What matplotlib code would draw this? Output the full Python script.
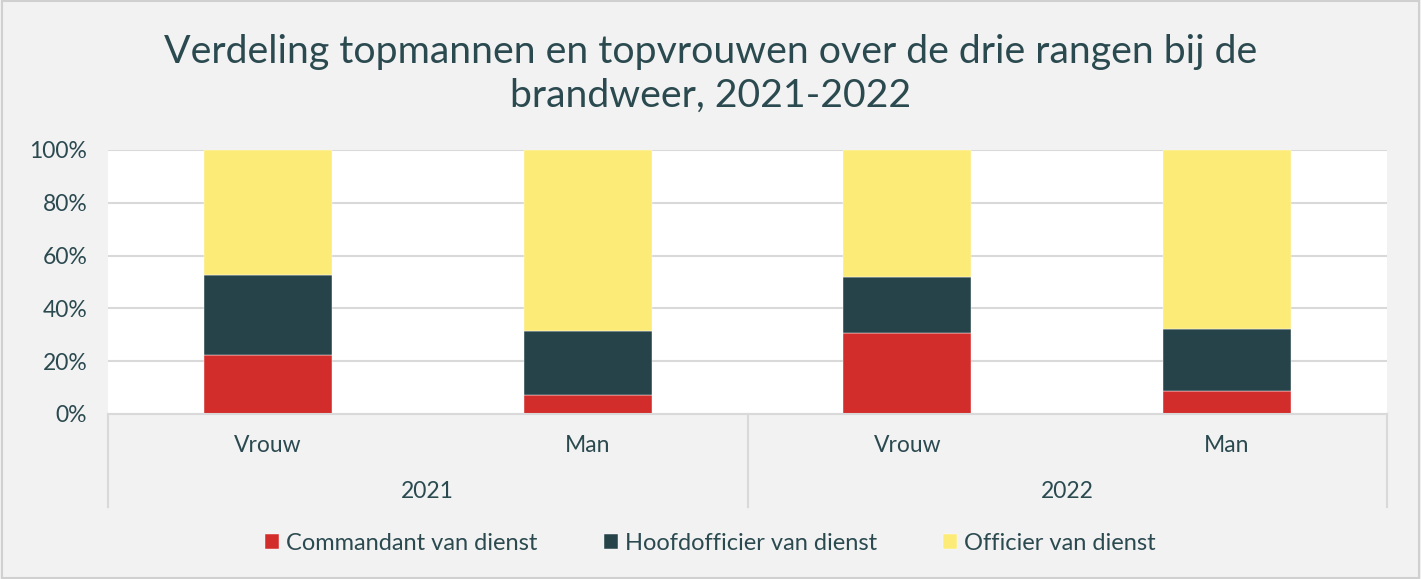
import matplotlib
matplotlib.use("Agg")
import matplotlib.pyplot as plt
from matplotlib.patches import Rectangle
from matplotlib.lines import Line2D

years = ["2021", "2022"]
genders = ["Vrouw", "Man", "Vrouw", "Man"]
series_names = ["Commandant van dienst", "Hoofdofficier van dienst", "Officier van dienst"]
commandant = [22.5, 7.3, 30.7, 8.8]
hoofdofficier = [30.2, 24.2, 21.2, 23.5]
officier = [47.3, 68.5, 48.1, 67.7]
yticks = [0, 20, 40, 60, 80, 100]

colors = ["#D22D2A", "#264349", "#FCEB77"]
txt = "#2B4A50"
bg = "#F2F2F2"
plt.rcParams['font.family'] = ['Lato', 'DejaVu Sans']

fig = plt.figure(figsize=(14.21, 5.79), dpi=100, facecolor=bg)
fig.patches.append(Rectangle((0.0015, 0.002), 0.997, 0.996, transform=fig.transFigure,
                             fill=False, edgecolor="#D0D0D0", linewidth=1.5))
ax = fig.add_axes([108/1421, 1-414/579, (1387-108)/1421, 264/579])
ax.set_facecolor("white")

x = list(range(len(genders)))
bottoms = [0]*len(x)
for vals, name, c in zip([commandant, hoofdofficier, officier], series_names, colors):
    ax.bar(x, vals, width=0.4, bottom=bottoms, color=c, label=name, zorder=3,
           edgecolor="#ffffff", linewidth=0.3)
    bottoms = [b + v for b, v in zip(bottoms, vals)]

ax.set_xlim(-0.5, len(x)-0.5)
ax.set_ylim(0, 100)
ax.set_yticks(yticks)
ax.set_yticklabels([f"{t}%" for t in yticks], fontsize=16.5, color=txt)
ax.tick_params(axis='y', length=0, pad=15)
ax.set_xticks([])
ax.grid(axis='y', color="#D9D9D9", linewidth=1.5, zorder=0)
for s in ax.spines.values():
    s.set_visible(False)

trans = ax.get_xaxis_transform()
ax.plot([-0.5, len(x)-0.5], [0, 0], transform=trans, color="#D9D9D9", lw=1.5, clip_on=False, zorder=4)
for xv in [-0.5, 1.5, 3.5]:
    ax.add_line(Line2D([xv, xv], [0, -0.352], transform=trans, color="#D9D9D9", lw=1.5, clip_on=False))
for i, g in enumerate(genders):
    ax.text(i, -0.118, g, transform=trans, ha='center', va='center', fontsize=16.5, color=txt)
for j, yr in enumerate(years):
    ax.text(2*j+0.5, -0.295, yr, transform=trans, ha='center', va='center', fontsize=16.5, color=txt)

fig.text(0.5, 1-52/579, "Verdeling topmannen en topvrouwen over de drie rangen bij de", ha='center', va='center',
         fontsize=28.3, color=txt)
fig.text(0.5, 1-96/579, "brandweer, 2021-2022", ha='center', va='center', fontsize=28.3, color=txt)

handles, labels = ax.get_legend_handles_labels()
fig.legend(handles, labels, loc='center', bbox_to_anchor=(0.5, 1-543/579), ncol=3, frameon=False,
           fontsize=17, labelcolor=txt, handlelength=0.6, handleheight=0.6, handletextpad=0.3,
           columnspacing=2.8)

fig.savefig("out.png", dpi=100, facecolor=bg)
